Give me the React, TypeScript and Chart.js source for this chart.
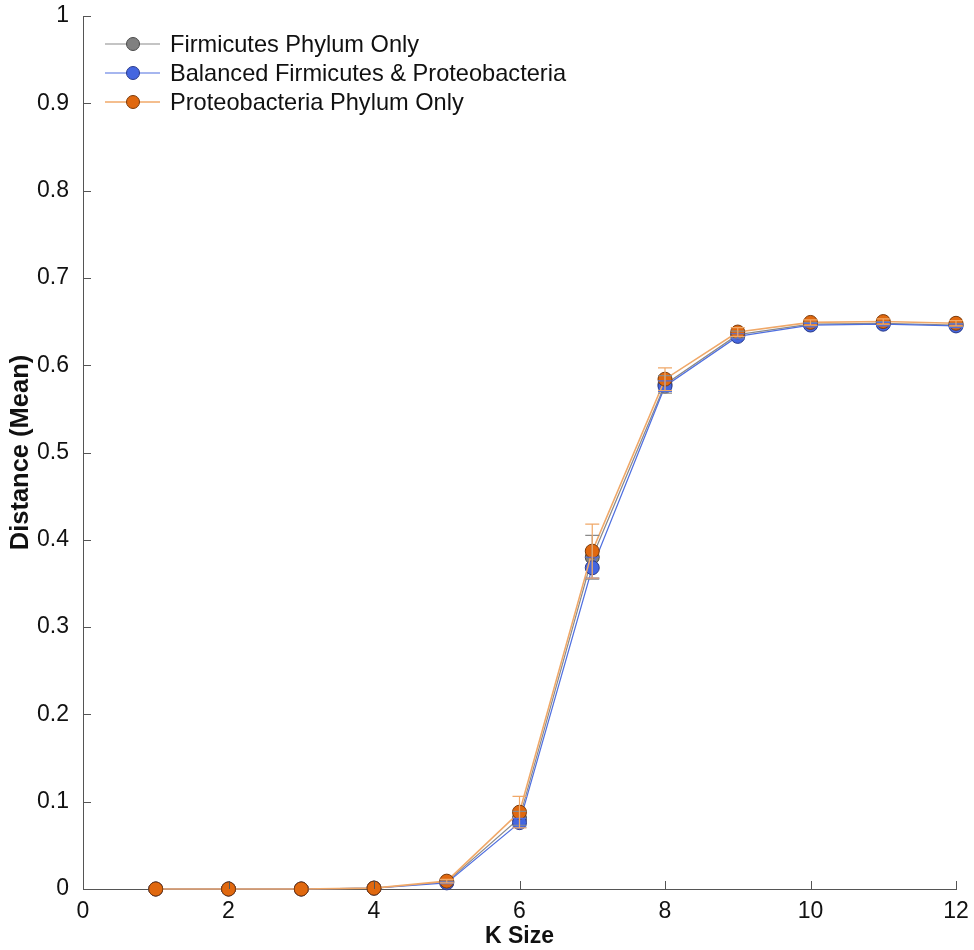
import React, { useEffect, useRef } from "react";
import { Chart, registerables } from "chart.js";

Chart.register(...registerables);

const kSizes = [1, 2, 3, 4, 5, 6, 7, 8, 9, 10, 11, 12];
const seriesLabels = [
  "Firmicutes Phylum Only",
  "Balanced Firmicutes & Proteobacteria",
  "Proteobacteria Phylum Only",
];
const firmicutesMean = [0, 0, 0, 0.001, 0.008, 0.081, 0.38, 0.578, 0.635, 0.647, 0.648, 0.646];
const balancedMean = [0, 0, 0, 0.001, 0.007, 0.076, 0.368, 0.576, 0.633, 0.646, 0.647, 0.645];
const proteoMean = [0, 0, 0, 0.001, 0.009, 0.088, 0.387, 0.584, 0.638, 0.649, 0.65, 0.648];
const firmicutesErr = [0, 0, 0, 0, 0.001, 0.008, 0.025, 0.01, 0.004, 0.002, 0.002, 0.002];
const balancedErr = [0, 0, 0, 0, 0.001, 0.005, 0.012, 0.006, 0.003, 0.002, 0.002, 0.002];
const proteoErr = [0, 0, 0, 0, 0.002, 0.018, 0.031, 0.013, 0.005, 0.003, 0.003, 0.003];
const xTicks = [0, 2, 4, 6, 8, 10, 12];
const yTickLabels = ["0", "0.1", "0.2", "0.3", "0.4", "0.5", "0.6", "0.7", "0.8", "0.9", "1"];

const FONT = "'Liberation Sans', Arial, Helvetica, sans-serif";

const styles = [
  { line: "#8a8a8a", fill: "#808080", border: "#4a4a4a", lineWidth: 1.2 },
  { line: "#4f6fe0", fill: "#4466e0", border: "#2a3a8a", lineWidth: 1.2 },
  { line: "#f0a868", fill: "#e0680f", border: "#7a3a0a", lineWidth: 1.6 },
];

const errorArrays = [firmicutesErr, balancedErr, proteoErr];

const customPlugin = {
  id: "custom",
  afterDatasetsDraw(chart: any) {
    const ctx = chart.ctx;
    const x = chart.scales.x;
    const y = chart.scales.y;
    ctx.save();
    chart.data.datasets.forEach((ds: any, i: number) => {
      const errs = errorArrays[i];
      ctx.strokeStyle = styles[i].line;
      ctx.lineWidth = 1.2;
      ds.data.forEach((p: any, j: number) => {
        const e = errs[j];
        if (!e) return;
        const px = x.getPixelForValue(p.x);
        const top = y.getPixelForValue(p.y + e);
        const bot = y.getPixelForValue(p.y - e);
        ctx.beginPath();
        ctx.moveTo(px, top);
        ctx.lineTo(px, bot);
        ctx.moveTo(px - 7, top);
        ctx.lineTo(px + 7, top);
        ctx.moveTo(px - 7, bot);
        ctx.lineTo(px + 7, bot);
        ctx.stroke();
      });
    });
    ctx.restore();
  },
  afterDraw(chart: any) {
    const ctx = chart.ctx;
    const x = chart.scales.x;
    const y = chart.scales.y;
    const area = chart.chartArea;
    ctx.save();
    ctx.strokeStyle = "#555";
    ctx.lineWidth = 1;
    xTicks.forEach((v) => {
      const px = Math.round(x.getPixelForValue(v)) + 0.5;
      ctx.beginPath();
      ctx.moveTo(px, area.bottom);
      ctx.lineTo(px, area.bottom - 8);
      ctx.stroke();
    });
    yTickLabels.forEach((_, i) => {
      const py = Math.round(y.getPixelForValue(i / 10)) + 0.5;
      ctx.beginPath();
      ctx.moveTo(area.left, py);
      ctx.lineTo(area.left + 8, py);
      ctx.stroke();
    });
    // legend
    const lx0 = area.left + 22;
    const lx1 = area.left + 77;
    const mx = area.left + 50;
    const tx = area.left + 87;
    const rows = [area.top + 28, area.top + 57, area.top + 86];
    ctx.font = "23.6px " + FONT;
    ctx.textBaseline = "middle";
    ctx.textAlign = "left";
    seriesLabels.forEach((lab, i) => {
      const ry = rows[i];
      ctx.strokeStyle = styles[i].line;
      ctx.lineWidth = styles[i].lineWidth;
      ctx.beginPath();
      ctx.moveTo(lx0, ry);
      ctx.lineTo(lx1, ry);
      ctx.stroke();
      ctx.beginPath();
      ctx.arc(mx, ry, 6.5, 0, Math.PI * 2);
      ctx.fillStyle = styles[i].fill;
      ctx.fill();
      ctx.strokeStyle = styles[i].border;
      ctx.lineWidth = 1;
      ctx.stroke();
      ctx.fillStyle = "#111";
      ctx.fillText(lab, tx, ry + 1);
    });
    ctx.restore();
  },
};

export default function App() {
  const ref = useRef<HTMLCanvasElement | null>(null);
  useEffect(() => {
    document.body.style.margin = "0";
    const means = [firmicutesMean, balancedMean, proteoMean];
    const chart = new Chart(ref.current as HTMLCanvasElement, {
      type: "line",
      data: {
        datasets: means.map((m, i) => ({
          label: seriesLabels[i],
          data: kSizes.map((k, j) => ({ x: k, y: m[j] })),
          borderColor: styles[i].line,
          borderWidth: styles[i].lineWidth,
          pointBackgroundColor: styles[i].fill,
          pointBorderColor: styles[i].border,
          pointBorderWidth: 1,
          pointRadius: 7,
          pointHoverRadius: 7,
          tension: 0,
          fill: false,
          clip: false,
          order: 3 - i,
        })),
      },
      options: {
        animation: false,
        responsive: false,
        maintainAspectRatio: false,
        layout: { padding: { left: 0, right: 18, top: 16, bottom: 0 } },
        plugins: { legend: { display: false }, tooltip: { enabled: false } },
        scales: {
          x: {
            type: "linear",
            min: 0,
            max: 12,
            grid: { display: false },
            border: { display: true, color: "#555", width: 1 },
            ticks: {
              stepSize: 2,
              color: "#111",
              font: { family: FONT, size: 23 },
              padding: 1,
              maxRotation: 0,
            },
            title: {
              display: true,
              text: "K Size",
              color: "#111",
              font: { family: FONT, size: 23, weight: "bold" },
              padding: { top: 0, bottom: 0 },
            },
            afterFit: (s: any) => {
              s.height = 61;
            },
          },
          y: {
            type: "linear",
            min: 0,
            max: 1,
            grid: { display: false },
            border: { display: true, color: "#555", width: 1 },
            ticks: {
              stepSize: 0.1,
              color: "#111",
              font: { family: FONT, size: 23, lineHeight: 1 },
              padding: 6,
              callback: (v: any) => yTickLabels[Math.round(Number(v) * 10)],
            },
            title: {
              display: true,
              text: "Distance (Mean)",
              color: "#111",
              font: { family: FONT, size: 25.5, weight: "bold" },
              padding: { top: 6, bottom: 0 },
            },
            afterFit: (s: any) => {
              s.width = 83;
              s.paddingTop = 0;
              s.paddingBottom = 0;
            },
          },
        },
      },
      plugins: [customPlugin],
    } as any);
    return () => chart.destroy();
  }, []);
  return (
    <div style={{ width: 974, height: 950, background: "#fff" }}>
      <canvas ref={ref} width={974} height={950} style={{ display: "block" }} />
    </div>
  );
}
